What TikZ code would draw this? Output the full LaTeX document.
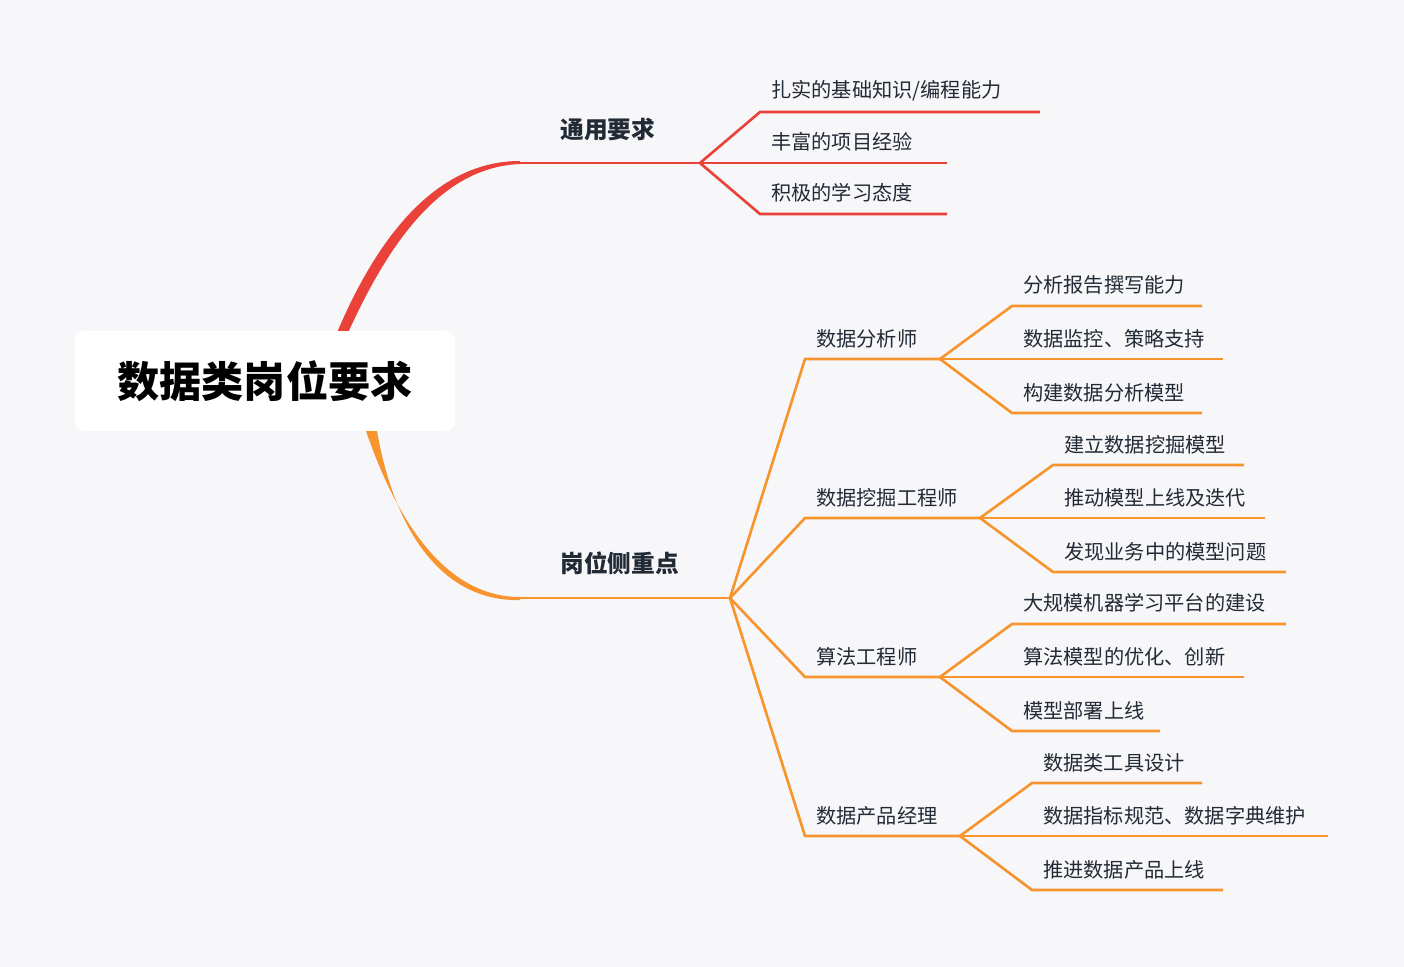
\documentclass[tikz,border=0pt]{standalone}
\usepackage{fontspec}
\setmainfont{Noto Sans CJK SC}
\usetikzlibrary{positioning,calc}
\definecolor{mmbg}{HTML}{F7F7F9}
\definecolor{mmred}{HTML}{EA4139}
\definecolor{mmorange}{HTML}{F7942D}
\definecolor{mmtext}{HTML}{222A35}

\tikzset{
  leaf/.style={anchor=west,inner sep=0pt,text=mmtext,font=\fontsize{11.5}{14}\selectfont},
  topic/.style={anchor=west,inner sep=0pt,text=mmtext,font=\fontsize{13.5}{16}\selectfont\bfseries},
  link/.style={line width=1.5pt},
}
% parent coordinate, start x, line y, end x, text y, text, colour, name
\newcommand{\leafline}[8]{%
  \coordinate (#8s) at (#2,#3);
  \coordinate (#8e) at (#4,#3);
  \node[leaf] (#8) at (#2+11,#5) {#6};
  \draw[link,#7] (#1) .. controls ($(#1)!0.5!(#8s)$ |- #1) and ($(#1)!0.5!(#8s)$ |- #8s) .. (#8s) -- (#8e);
}

\begin{document}
\begin{tikzpicture}[x=0.02cm,y=-0.02cm]
  \fill[mmbg] (0,0) rectangle (1404,967);

  % ---- main branches ----
  \fill[mmred] (336,335) .. controls (380,230) and (440,161) .. (520,161)
    -- (520,164) .. controls (445,167) and (392,235) .. (347,335) -- cycle;
  \fill[mmorange] (366,431) .. controls (400,530) and (450,597) .. (520,597)
    -- (520,600) .. controls (445,602) and (395,535) .. (377,431) -- cycle;

  % ---- root ----
  \node[fill=white,rounded corners=6pt,minimum width=7.62cm,minimum height=2cm,
    font=\fontsize{24}{28}\selectfont\bfseries] (root) at (265,381) {数据类岗位要求};

  % ---- general requirements ----
  \coordinate (genj) at (700,163);
  \draw[link,mmred] (520,163) -- (genj);
  \node[topic] (gen) at (560,129) {通用要求};
  \leafline{genj}{760}{112}{1040}{91}{扎实的基础知识/编程能力}{mmred}{g1}
  \leafline{genj}{760}{163}{947}{142}{丰富的项目经验}{mmred}{g2}
  \leafline{genj}{760}{214}{947}{193}{积极的学习态度}{mmred}{g3}

  % ---- role focus ----
  \coordinate (posj) at (730,598);
  \draw[link,mmorange] (520,598) -- (posj);
  \node[topic] (pos) at (560,563) {岗位侧重点};

  \leafline{posj}{805}{359}{940}{339}{数据分析师}{mmorange}{ana}
  \leafline{posj}{805}{518}{980}{498}{数据挖掘工程师}{mmorange}{min}
  \leafline{posj}{805}{677}{940}{657}{算法工程师}{mmorange}{alg}
  \leafline{posj}{805}{836}{960}{816}{数据产品经理}{mmorange}{pm}

  \leafline{anae}{1012}{306}{1202}{285}{分析报告撰写能力}{mmorange}{a1}
  \leafline{anae}{1012}{359}{1223}{339}{数据监控、策略支持}{mmorange}{a2}
  \leafline{anae}{1012}{413}{1202}{393}{构建数据分析模型}{mmorange}{a3}

  \leafline{mine}{1053}{465}{1244}{445}{建立数据挖掘模型}{mmorange}{m1}
  \leafline{mine}{1053}{518}{1265}{498}{推动模型上线及迭代}{mmorange}{m2}
  \leafline{mine}{1053}{572}{1286}{552}{发现业务中的模型问题}{mmorange}{m3}

  \leafline{alge}{1012}{624}{1286}{603}{大规模机器学习平台的建设}{mmorange}{l1}
  \leafline{alge}{1012}{677}{1244}{657}{算法模型的优化、创新}{mmorange}{l2}
  \leafline{alge}{1012}{731}{1160}{711}{模型部署上线}{mmorange}{l3}

  \leafline{pme}{1032}{783}{1202}{763}{数据类工具设计}{mmorange}{p1}
  \leafline{pme}{1032}{836}{1328}{816}{数据指标规范、数据字典维护}{mmorange}{p2}
  \leafline{pme}{1032}{890}{1223}{870}{推进数据产品上线}{mmorange}{p3}
\end{tikzpicture}
\end{document}
